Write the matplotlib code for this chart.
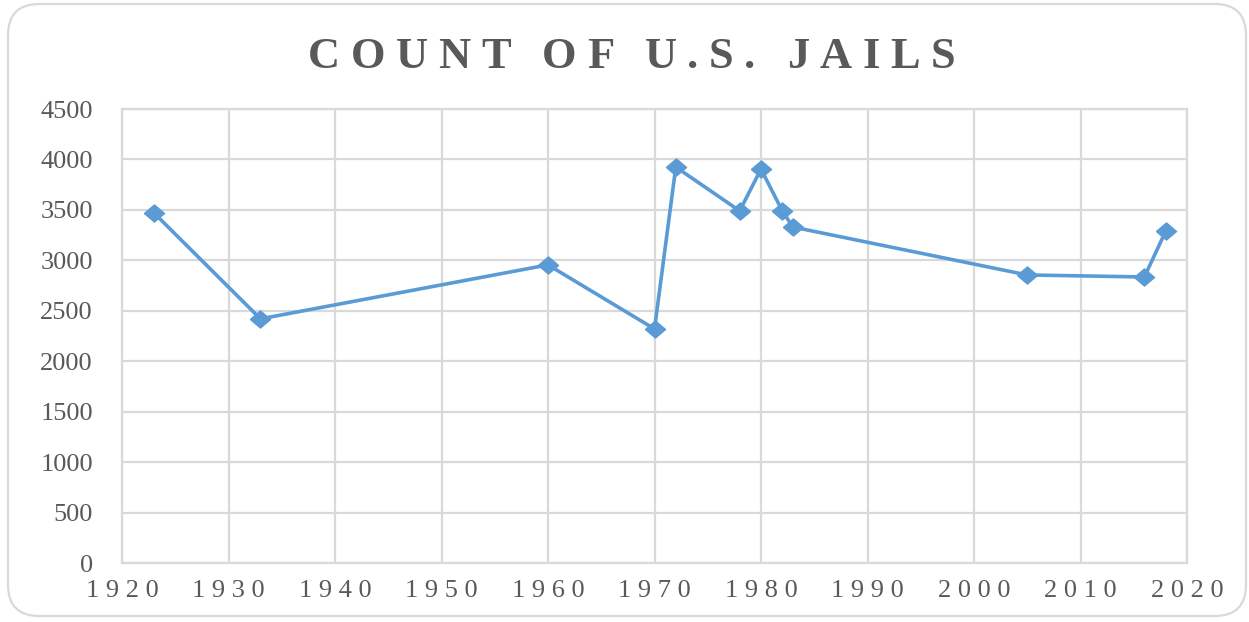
import matplotlib
matplotlib.use("Agg")
import matplotlib.pyplot as plt
from matplotlib.patches import FancyBboxPatch
from matplotlib.ticker import FuncFormatter

years = [1923, 1933, 1960, 1970, 1972, 1978, 1980, 1982, 1983, 2005, 2016, 2018]
jails = [3470, 2420, 2955, 2320, 3925, 3490, 3905, 3490, 3330, 2855, 2835, 3290]
x_ticks = list(range(1920, 2021, 10))
y_ticks = list(range(0, 4501, 500))
title = "COUNT OF U.S. JAILS"

W, H = 1249, 622
DPI = 100
fig = plt.figure(figsize=(W / DPI, H / DPI), dpi=DPI)
fig.patch.set_facecolor("white")

FONT = ["Liberation Serif", "DejaVu Serif"]
TXT = "#595959"
GRID = "#D9D9D9"
BLUE = "#5B9BD5"

# rounded outer frame
frame = FancyBboxPatch((8 / W, 6 / H), (1246 - 8) / W, (618 - 6) / H,
                       boxstyle="round,pad=0,rounding_size=0.025",
                       transform=fig.transFigure, facecolor="none",
                       edgecolor="#D9D9D9", linewidth=1.6, mutation_aspect=W / H)
fig.patches.append(frame)

ax = fig.add_axes([122 / W, 1 - 563 / H, (1187 - 122) / W, (563 - 109) / H])
ax.set_xlim(1920, 2020)
ax.set_ylim(0, 4500)
ax.set_xticks(x_ticks)
ax.set_yticks(y_ticks)
ax.grid(True, color=GRID, linewidth=1.6)
ax.set_axisbelow(True)
for sp in ax.spines.values():
    sp.set_color(GRID)
    sp.set_linewidth(1.6)
ax.tick_params(length=0, colors=TXT)
ax.tick_params(axis="y", pad=21)
ax.tick_params(axis="x", pad=12)

sep = "\u2005"
ax.xaxis.set_major_formatter(FuncFormatter(lambda v, p: sep.join(str(int(v)))))
for lab in ax.get_xticklabels():
    lab.set_family(FONT)
    lab.set_fontsize(19)
    lab.set_color(TXT)
for lab in ax.get_yticklabels():
    lab.set_family(FONT)
    lab.set_fontsize(19)
    lab.set_color(TXT)

diamond = [(-1, 0), (0, 0.85), (1, 0), (0, -0.85), (-1, 0)]
ax.plot(years, jails, color=BLUE, linewidth=2.6, marker=diamond,
        markersize=14.5, markerfacecolor=BLUE, markeredgecolor=BLUE, clip_on=False)

# title with letter spacing
renderer = fig.canvas.get_renderer()
tkw = dict(family=FONT, fontsize=32, fontweight="bold", color=TXT)


def text_width(s):
    t = fig.text(0, 0, s + "|", **tkw)
    w = t.get_window_extent(renderer).width
    t.remove()
    t = fig.text(0, 0, "|", **tkw)
    w -= t.get_window_extent(renderer).width
    t.remove()
    return w


left_px, right_px = 308, 955
natural = text_width(title)
extra = (right_px - left_px - natural) / (len(title) - 1)
for i, ch in enumerate(title):
    if ch == " ":
        continue
    xpx = left_px + text_width(title[:i]) + i * extra
    fig.text(xpx / W, 1 - 68 / H, ch, ha="left", va="baseline", **tkw)

fig.savefig("out.png", dpi=DPI)
